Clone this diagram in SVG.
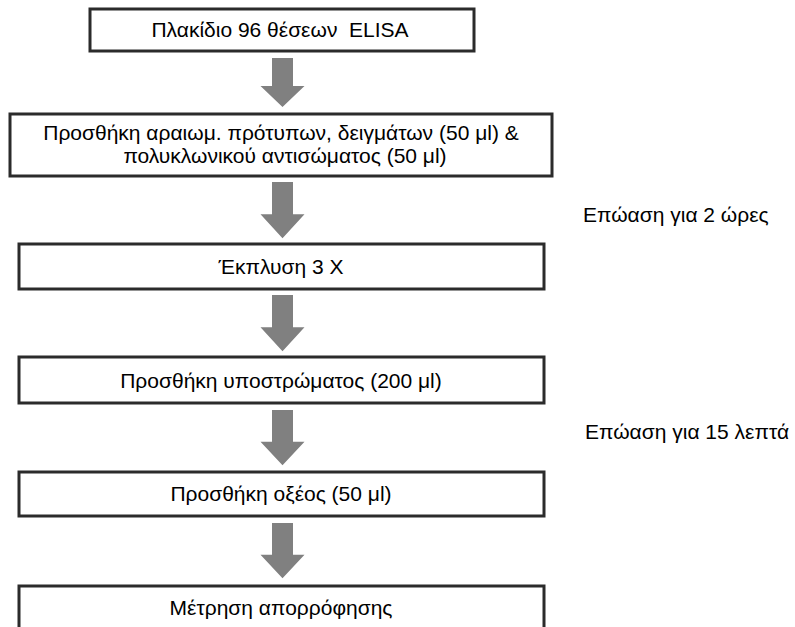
<svg xmlns="http://www.w3.org/2000/svg" width="795" height="627" viewBox="0 0 795 627">
<style>
.box{fill:#fff;stroke:#2b2b2b;stroke-width:3}
.t{font-family:"Liberation Sans",Arial,sans-serif;font-size:21px;fill:#000;text-anchor:middle}
.l{font-family:"Liberation Sans",Arial,sans-serif;font-size:21px;fill:#000}
.arr{fill:#808080}
</style>
<defs>
<path id="arrow" d="M-10.5,0 H10.5 V28 H22 L0,49 L-22,28 H-10.5 Z"/>
</defs>
<rect width="795" height="627" fill="#fff"/>
<g id="connectors">
<use href="#arrow" class="arr" transform="translate(282.5,58)"/>
<use href="#arrow" class="arr" transform="translate(282.5,182) scale(1,1.15)"/>
<use href="#arrow" class="arr" transform="translate(282.5,295) scale(1,1.15)"/>
<use href="#arrow" class="arr" transform="translate(282.5,410) scale(1,1.13)"/>
<use href="#arrow" class="arr" transform="translate(282.5,523) scale(1,1.13)"/>
</g>
<g id="n1"><rect class="box" x="90" y="9" width="384" height="42"/><text class="t" x="280" y="37" xml:space="preserve">Πλακίδιο 96 θέσεων  ELISA</text></g>
<g id="n2"><rect class="box" x="10" y="114" width="542" height="62"/><text class="t" x="281" y="140">Προσθήκη αραιωμ. πρότυπων, δειγμάτων (50 μl) &amp;</text><text class="t" x="285" y="163">πολυκλωνικού αντισώματος (50 μl)</text></g>
<g id="n3"><rect class="box" x="19" y="244" width="525" height="45"/><text class="t" x="281" y="274">Έκπλυση 3 Χ</text></g>
<g id="n4"><rect class="box" x="19" y="357" width="525" height="46"/><text class="t" x="281" y="388">Προσθήκη υποστρώματος (200 μl)</text></g>
<g id="n5"><rect class="box" x="19" y="472" width="525" height="44"/><text class="t" x="281" y="501">Προσθήκη οξέος (50 μl)</text></g>
<g id="n6"><rect class="box" x="19" y="586" width="525" height="60"/><text class="t" x="281" y="615">Μέτρηση απορρόφησης</text></g>
<g id="labels">
<text class="l" x="583" y="222">Επώαση για 2 ώρες</text>
<text class="l" x="585" y="439">Επώαση για 15 λεπτά</text>
</g>
</svg>
